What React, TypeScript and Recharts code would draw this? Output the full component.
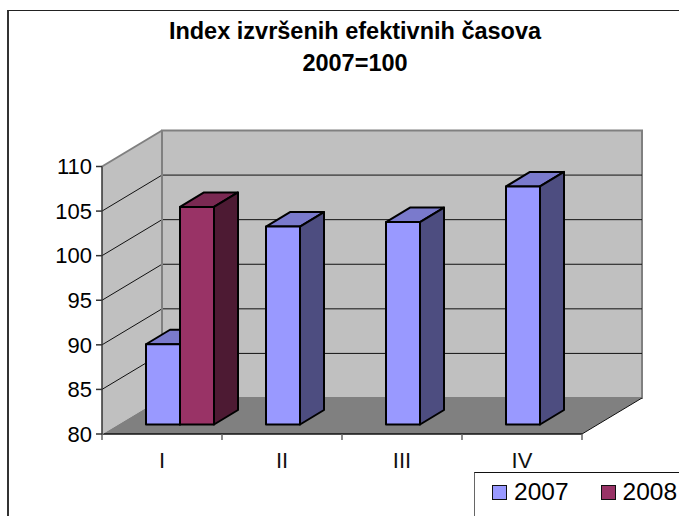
import { BarChart, Bar, XAxis, YAxis, Legend, ReferenceArea } from 'recharts'

const categories = ['I', 'II', 'III', 'IV']
const values2007 = [89, 102.2, 102.7, 106.7]
const values2008 = [104.4, null, null, null]
const yTicks = [80, 85, 90, 95, 100, 105, 110]
const titleLines = ['Index izvršenih efektivnih časova', '2007=100']

const chartData = categories.map((name, i) => ({
  name,
  y2007: values2007[i],
  y2008: values2008[i]
}))

const FONT = 'Liberation Sans, Arial, sans-serif'
// the 3D look: how far the back wall sits from the front of the floor
const WALL_DX = 60
const WALL_DY = -36
// bars stand a little inside the floor and have their own depth
const BAR_DX = 18
const BAR_DY = -9.5
const DEPTH_X = 24
const DEPTH_Y = -14.5

const Walls = ({ x, y, width, height }: any) => {
  const bottom = y + height
  const right = x + width
  const gridLevels = yTicks.map((_, i) => bottom - (height * i) / (yTicks.length - 1))
  const xMarks = categories.map((_, i) => x + (width * i) / categories.length).concat(right)
  return (
    <g>
      {/* side wall */}
      <polygon
        points={`${x},${bottom} ${x},${y} ${x + WALL_DX},${y + WALL_DY} ${x + WALL_DX},${bottom + WALL_DY}`}
        fill="#c0c0c0"
      />
      {/* back wall */}
      <rect x={x + WALL_DX} y={y + WALL_DY} width={width} height={height} fill="#c0c0c0" stroke="#808080" strokeWidth={2} />
      {/* floor */}
      <polygon
        points={`${x},${bottom} ${x + WALL_DX},${bottom + WALL_DY} ${right + WALL_DX},${bottom + WALL_DY} ${right},${bottom}`}
        fill="#808080"
      />
      {gridLevels.slice(1, -1).map((ly, i) => (
        <polyline
          key={i}
          points={`${x},${ly} ${x + WALL_DX},${ly + WALL_DY} ${right + WALL_DX},${ly + WALL_DY}`}
          fill="none"
          stroke="#111"
          strokeWidth={1}
        />
      ))}
      <line x1={x} y1={y} x2={x + WALL_DX} y2={y + WALL_DY} stroke="#808080" strokeWidth={2} />
      <line x1={x + WALL_DX} y1={y + WALL_DY} x2={x + WALL_DX} y2={bottom + WALL_DY} stroke="#808080" strokeWidth={2} />
      <line x1={x} y1={bottom} x2={right} y2={bottom} stroke="#111" strokeWidth={1.5} />
      <line x1={right} y1={bottom} x2={right + WALL_DX} y2={bottom + WALL_DY} stroke="#111" strokeWidth={1} />
      <line x1={x} y1={bottom} x2={x + WALL_DX} y2={bottom + WALL_DY} stroke="#c0c0c0" strokeWidth={1} />
      {xMarks.map((mx, i) => (
        <line key={i} x1={mx} y1={bottom} x2={mx} y2={bottom + 6} stroke="#666" strokeWidth={1.5} />
      ))}
    </g>
  )
}

const makeBar = (front: string, top: string, side: string) => (props: any) => {
  const { x, y, width, height } = props
  if (!height || height <= 0) return <g />
  const l = x + BAR_DX
  const r = l + width
  const t = y + BAR_DY
  const b = t + height
  return (
    <g stroke="#000" strokeWidth={2} strokeLinejoin="round">
      <polygon
        points={`${l},${t} ${l + DEPTH_X},${t + DEPTH_Y} ${r + DEPTH_X},${t + DEPTH_Y} ${r},${t}`}
        fill={top}
      />
      <polygon
        points={`${r},${t} ${r + DEPTH_X},${t + DEPTH_Y} ${r + DEPTH_X},${b + DEPTH_Y} ${r},${b}`}
        fill={side}
      />
      <rect x={l} y={t} width={width} height={height} fill={front} />
    </g>
  )
}

const Bar2007 = makeBar('#9999ff', '#7a7acc', '#4d4d80')
const Bar2008 = makeBar('#993366', '#7a2952', '#4d1a33')

const legendItems = [
  { label: '2007', color: '#9999ff' },
  { label: '2008', color: '#993366' }
]

const LegendBox = () => (
  <div
    style={{
      width: 205,
      height: 44,
      boxSizing: 'border-box',
      borderLeft: '1px solid #666',
      borderTop: '1px solid #111',
      display: 'flex',
      alignItems: 'center',
      paddingLeft: 17,
      paddingBottom: 4,
      fontFamily: FONT,
      fontSize: 24.5,
      color: '#000',
      lineHeight: 1
    }}
  >
    {legendItems.map(item => (
      <span key={item.label} style={{ display: 'flex', alignItems: 'center', marginRight: 32 }}>
        <span
          style={{
            width: 13,
            height: 13,
            background: item.color,
            border: '1.5px solid #111',
            marginRight: 7,
            display: 'inline-block'
          }}
        />
        {item.label}
      </span>
    ))}
  </div>
)

export default function App() {
  return (
    <div style={{ position: 'absolute', left: 0, top: 0, width: 679, height: 516, overflow: 'hidden', background: '#fff' }}>
      {/* chart frame: only top and left edges fall inside the page */}
      <div style={{ position: 'absolute', left: 7, top: 10, width: 700, height: 520, boxSizing: 'border-box', borderLeft: '2px solid #333', borderTop: '1.5px solid #222' }} />
      <BarChart
        width={679}
        height={516}
        data={chartData}
        margin={{ top: 166.5, right: 97, bottom: 42, left: 42 }}
        barGap={0}
        barCategoryGap={26}
        style={{ position: 'absolute', left: 0, top: 0 }}
      >
        <ReferenceArea y1={80} y2={110} shape={<Walls />} ifOverflow="extendDomain" />
        <XAxis
          dataKey="name"
          height={40}
          axisLine={false}
          tickLine={false}
          tickMargin={12}
          tick={{ fill: '#111', fontSize: 22, fontFamily: FONT }}
        />
        <YAxis
          width={60}
          domain={[80, 110]}
          ticks={yTicks}
          interval={0}
          tickSize={6}
          tickMargin={4}
          axisLine={{ stroke: '#333', strokeWidth: 1.5 }}
          tickLine={{ stroke: '#333', strokeWidth: 1.5 }}
          tick={{ fill: '#000', fontSize: 22, fontFamily: FONT }}
        />
        <Bar dataKey="y2007" name="2007" isAnimationActive={false} shape={Bar2007} />
        <Bar dataKey="y2008" name="2008" isAnimationActive={false} shape={Bar2008} />
        <Legend
          layout="horizontal"
          verticalAlign="middle"
          content={<LegendBox />}
          wrapperStyle={{ position: 'absolute', left: 474, top: 472, width: 205, margin: 0 }}
        />
        <text textAnchor="middle" fontFamily={FONT} fontWeight="bold" fontSize={23.5} fill="#000">
          {titleLines.map((line, i) => (
            <tspan key={line} x={355} y={39 + i * 31.5}>
              {line}
            </tspan>
          ))}
        </text>
      </BarChart>
    </div>
  )
}
